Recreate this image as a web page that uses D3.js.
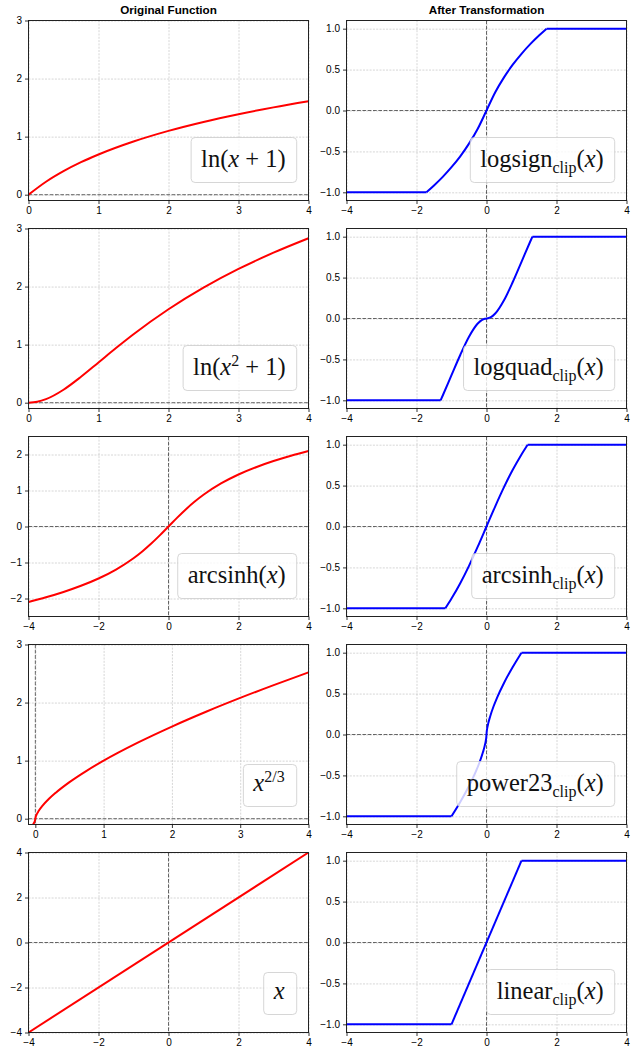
<!DOCTYPE html>
<html>
<head>
<meta charset="utf-8">
<script src="https://cdn.jsdelivr.net/npm/d3@7.9.0/dist/d3.min.js"></script>
<style>
  body { margin: 0; background: #fff; }
  svg { display: block; }
  .axis text { font-family: "Liberation Sans", Arial, sans-serif; font-size: 10px; fill: #000; }
  .axis line { stroke: #000; stroke-width: 0.8; }
  .axis path { display: none; }
  .grid line { stroke: #b0b0b0; stroke-opacity: 0.75; stroke-width: 0.7; stroke-dasharray: 2,1.3; }
  .grid path, .grid text { display: none; }
  .title { font-family: "Liberation Sans", Arial, sans-serif; font-size: 11.7px; font-weight: bold; }
  .legend text { font-family: "Liberation Serif", "DejaVu Serif", serif; white-space: pre; fill: #111; }
</style>
</head>
<body>
<svg id="chart" width="639" height="1050"></svg>
<script>
// ---------------------- Data ----------------------
const colTitles = ['Original Function', 'After Transformation'];

// left column: original functions
const lnX = [0, 0.25, 0.5, 0.75, 1, 1.5, 2, 2.5, 3, 3.5, 4];
const lnY = [0, 0.223, 0.405, 0.560, 0.693, 0.916, 1.099, 1.253, 1.386, 1.504, 1.609];

const lnSqX = [0, 0.125, 0.25, 0.5, 0.75, 1, 1.25, 1.5, 2, 2.5, 3, 3.5, 4];
const lnSqY = [0, 0.016, 0.061, 0.223, 0.446, 0.693, 0.941, 1.179, 1.609, 1.981, 2.303, 2.584, 2.833];

const asinhX = [-4, -3.5, -3, -2.5, -2, -1.5, -1, -0.75, -0.5, -0.25, 0, 0.25, 0.5, 0.75, 1, 1.5, 2, 2.5, 3, 3.5, 4];
const asinhY = [-2.095, -1.966, -1.818, -1.647, -1.444, -1.195, -0.881, -0.693, -0.481, -0.247, 0, 0.247, 0.481, 0.693, 0.881, 1.195, 1.444, 1.647, 1.818, 1.966, 2.095];

const pow23X = [-0.1, -0.05, -0.02, -0.005, 0, 0.005, 0.02, 0.05, 0.1, 0.2, 0.3, 0.5, 0.75, 1, 1.5, 2, 2.5, 3, 3.5, 4];
const pow23Y = [-0.215, -0.136, -0.074, -0.029, 0, 0.029, 0.074, 0.136, 0.215, 0.342, 0.448, 0.630, 0.825, 1, 1.310, 1.587, 1.842, 2.080, 2.305, 2.520];

const linX = [-4, 4];
const linY = [-4, 4];

// right column: clipped transforms
const logsignX = [-4, -1.718, -1.5, -1.25, -1, -0.75, -0.5, -0.25, 0, 0.25, 0.5, 0.75, 1, 1.25, 1.5, 1.718, 4];
const logsignY = [-1, -1, -0.916, -0.811, -0.693, -0.560, -0.405, -0.223, 0, 0.223, 0.405, 0.560, 0.693, 0.811, 0.916, 1, 1];

const logquadX = [-4, -1.311, -1.25, -1, -0.75, -0.5, -0.25, -0.125, 0, 0.125, 0.25, 0.5, 0.75, 1, 1.25, 1.311, 4];
const logquadY = [-1, -1, -0.941, -0.693, -0.446, -0.223, -0.061, -0.016, 0, 0.016, 0.061, 0.223, 0.446, 0.693, 0.941, 1, 1];

const asinhClipX = [-4, -1.175, -1, -0.75, -0.5, -0.25, 0, 0.25, 0.5, 0.75, 1, 1.175, 4];
const asinhClipY = [-1, -1, -0.881, -0.693, -0.481, -0.247, 0, 0.247, 0.481, 0.693, 0.881, 1, 1];

const pow23ClipX = [-4, -1, -0.75, -0.5, -0.3, -0.2, -0.1, -0.05, -0.02, -0.005, 0, 0.005, 0.02, 0.05, 0.1, 0.2, 0.3, 0.5, 0.75, 1, 4];
const pow23ClipY = [-1, -1, -0.825, -0.630, -0.448, -0.342, -0.215, -0.136, -0.074, -0.029, 0, 0.029, 0.074, 0.136, 0.215, 0.342, 0.448, 0.630, 0.825, 1, 1];

const linClipX = [-4, -1, 1, 4];
const linClipY = [-1, -1, 1, 1];

// axis limits and ticks
const ticks0to4 = [0, 1, 2, 3, 4];
const ticksSym4 = [-4, -2, 0, 2, 4];
const ticks0to3 = [0, 1, 2, 3];
const ticksAsinh = [-2, -1, 0, 1, 2];
const ticksClip = [-1, -0.5, 0, 0.5, 1];

// legend labels as [text, kind] runs: r roman, i italic, sub, sup
const leftLabels = [
  [['ln(', 'r'], ['x', 'i'], [' + 1)', 'r']],
  [['ln(', 'r'], ['x', 'i'], ['2', 'sup'], [' + 1)', 'r']],
  [['arcsinh(', 'r'], ['x', 'i'], [')', 'r']],
  [['x', 'i'], ['2/3', 'sup']],
  [['x', 'i']]
];
const rightNames = ['logsign', 'logquad', 'arcsinh', 'power23', 'linear'];

const leftPanels = [
  { xs: lnX, ys: lnY, xDomain: [0, 4], yDomain: [-0.1, 3], xTicks: ticks0to4, yTicks: ticks0to3 },
  { xs: lnSqX, ys: lnSqY, xDomain: [0, 4], yDomain: [-0.1, 3], xTicks: ticks0to4, yTicks: ticks0to3 },
  { xs: asinhX, ys: asinhY, xDomain: [-4, 4], yDomain: [-2.5, 2.5], xTicks: ticksSym4, yTicks: ticksAsinh },
  { xs: pow23X, ys: pow23Y, xDomain: [-0.1, 4], yDomain: [-0.1, 3], xTicks: ticks0to4, yTicks: ticks0to3 },
  { xs: linX, ys: linY, xDomain: [-4, 4], yDomain: [-4, 4], xTicks: ticksSym4, yTicks: ticksSym4 }
];
const rightSeries = [
  [logsignX, logsignY], [logquadX, logquadY], [asinhClipX, asinhClipY], [pow23ClipX, pow23ClipY], [linClipX, linClipY]
];

// ---------------------- Layout ----------------------
const svg = d3.select('#chart');
const panelW = 280, panelH = 180;
const colLeft = [28.5, 346.5];
const rowTop = i => 20.5 + 208 * i;

colTitles.forEach((t, c) => {
  svg.append('text').attr('class', 'title')
    .attr('x', colLeft[c] + panelW / 2).attr('y', 14)
    .attr('text-anchor', 'middle').text(t);
});

// ---------------------- Panel ----------------------
function drawPanel(p, col, row, color, label) {
  const g = svg.append('g').attr('transform', `translate(${colLeft[col]},${rowTop(row)})`);
  const x = d3.scaleLinear().domain(p.xDomain).range([0, panelW]);
  const y = d3.scaleLinear().domain(p.yDomain).range([panelH, 0]);
  const id = `clip-${col}-${row}`;

  g.append('clipPath').attr('id', id)
    .append('rect').attr('width', panelW).attr('height', panelH);

  // grid
  g.append('g').attr('class', 'grid').attr('transform', `translate(0,${panelH})`)
    .call(d3.axisBottom(x).tickValues(p.xTicks).tickSize(-panelH).tickFormat(''));
  g.append('g').attr('class', 'grid')
    .call(d3.axisLeft(y).tickValues(p.yTicks).tickSize(-panelW).tickFormat(''));

  // zero lines
  const zero = g.append('g').attr('clip-path', `url(#${id})`)
    .attr('stroke', '#000').attr('stroke-opacity', 0.65)
    .attr('stroke-width', 0.9).attr('stroke-dasharray', '3.7,1.6');
  zero.append('line').attr('x1', 0).attr('x2', panelW).attr('y1', y(0)).attr('y2', y(0));
  zero.append('line').attr('x1', x(0)).attr('x2', x(0)).attr('y1', 0).attr('y2', panelH);

  // curve: flat clipped parts straight, the middle part smooth
  const pts = p.xs.map((v, i) => [v, p.ys[i]]);
  const n = pts.length;
  let a = 0; while (a < n - 1 && pts[a + 1][1] === pts[0][1]) a++;
  let b = n - 1; while (b > 0 && pts[b - 1][1] === pts[n - 1][1]) b--;
  const line = d3.line().x(d => x(d[0])).y(d => y(d[1]));
  const smooth = d3.line().x(d => x(d[0])).y(d => y(d[1])).curve(d3.curveMonotoneX);
  const cg = g.append('g').attr('clip-path', `url(#${id})`)
    .attr('fill', 'none').attr('stroke', color).attr('stroke-width', 2)
    .attr('stroke-linejoin', 'round');
  if (a > 0) cg.append('path').attr('d', line(pts.slice(0, a + 1)));
  cg.append('path').attr('d', smooth(pts.slice(a, b + 1)));
  if (b < n - 1) cg.append('path').attr('d', line(pts.slice(b)));

  // spines
  g.append('rect').attr('width', panelW).attr('height', panelH)
    .attr('fill', 'none').attr('stroke', '#222').attr('stroke-width', 1);

  // axes
  const fmt = col === 1 ? d3.format('.1f') : d3.format('d');
  g.append('g').attr('class', 'axis').attr('transform', `translate(0,${panelH})`)
    .call(d3.axisBottom(x).tickValues(p.xTicks).tickSize(3.5).tickPadding(3).tickFormat(d3.format('d')));
  g.append('g').attr('class', 'axis')
    .call(d3.axisLeft(y).tickValues(p.yTicks).tickSize(3.5).tickPadding(3).tickFormat(fmt));

  // legend
  const lg = g.append('g').attr('class', 'legend');
  const text = lg.append('text').attr('font-size', 24.5);
  let shift = 0;
  label.forEach(([s, k]) => {
    const target = k === 'sub' ? 5.5 : k === 'sup' ? -9 : 0;
    const t = text.append('tspan').text(s).attr('dy', target - shift);
    shift = target;
    if (k === 'i') t.attr('font-style', 'italic');
    if (k === 'sub' || k === 'sup') t.attr('font-size', 16);
  });
  const w = text.node().getBBox().width;
  const bh = label.some(r => r[0].includes('(')) ? 45 : 42;
  const bw = w + 21;
  const bx = panelW - 11.8 - bw;
  const by = panelH - 18 - bh;
  text.attr('x', bx + 10).attr('y', by + bh - 15.5);
  lg.insert('rect', 'text').attr('x', bx).attr('y', by).attr('width', bw).attr('height', bh)
    .attr('rx', 4).attr('fill', '#fff').attr('fill-opacity', 0.8)
    .attr('stroke', '#ccc').attr('stroke-opacity', 0.8).attr('stroke-width', 1);
}

leftPanels.forEach((p, i) => drawPanel(p, 0, i, '#ff0000', leftLabels[i]));
rightSeries.forEach(([xs, ys], i) => {
  const p = { xs, ys, xDomain: [-4, 4], yDomain: [-1.1, 1.1], xTicks: ticksSym4, yTicks: ticksClip };
  const label = [[rightNames[i], 'r'], ['clip', 'sub'], ['(', 'r'], ['x', 'i'], [')', 'r']];
  drawPanel(p, 1, i, '#0000ff', label);
});
</script>
</body>
</html>
